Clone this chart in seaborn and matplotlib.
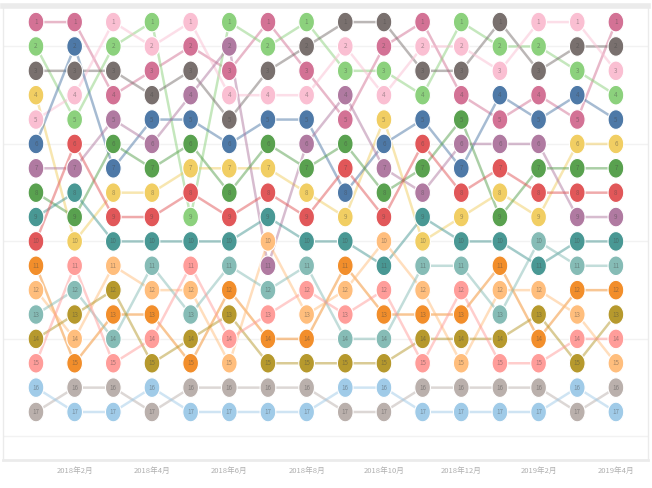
import numpy as np
import pandas as pd
import matplotlib
matplotlib.use("Agg")
import matplotlib.pyplot as plt
import seaborn as sns

# time points (16 columns); labels shown on every other column
periods = list(range(16))
tick_labels = ["2018年2月", "2018年4月", "2018年6月", "2018年8月",
               "2018年10月", "2018年12月", "2019年2月", "2019年4月"]

# rank of each series at each time point (1 = top)
rank_magenta    = [1, 1, 4, 3, 2, 3, 1, 3, 5, 2, 1, 4, 5, 4, 5, 1]
rank_lightgreen = [2, 5, 2, 1, 9, 1, 2, 1, 3, 3, 4, 1, 2, 2, 3, 4]
rank_gray       = [3, 3, 3, 4, 3, 5, 3, 2, 1, 1, 3, 3, 1, 3, 2, 2]
rank_yellow     = [4, 10, 8, 8, 7, 7, 7, 8, 9, 5, 10, 9, 8, 9, 6, 6]
rank_lightpink  = [5, 4, 1, 2, 1, 4, 4, 4, 2, 4, 2, 2, 3, 1, 1, 3]
rank_blue       = [6, 2, 7, 5, 5, 6, 5, 5, 8, 6, 5, 7, 4, 5, 4, 5]
rank_purple     = [7, 7, 5, 6, 4, 2, 11, 6, 4, 7, 8, 6, 6, 6, 9, 9]
rank_green      = [8, 9, 6, 7, 6, 8, 6, 7, 6, 8, 7, 5, 9, 7, 7, 7]
rank_teal       = [9, 8, 10, 10, 10, 10, 9, 10, 10, 11, 9, 10, 10, 11, 10, 10]
rank_red        = [10, 6, 9, 9, 8, 9, 8, 9, 7, 9, 6, 8, 7, 8, 8, 8]
rank_orange     = [11, 15, 13, 13, 15, 12, 14, 14, 11, 13, 13, 13, 11, 14, 12, 12]
rank_lightorange= [12, 14, 11, 12, 12, 15, 10, 13, 12, 10, 12, 15, 12, 12, 13, 15]
rank_lightteal  = [13, 12, 14, 11, 13, 11, 12, 11, 14, 14, 11, 11, 13, 10, 11, 11]
rank_olive      = [14, 13, 12, 15, 14, 13, 15, 15, 15, 15, 14, 14, 14, 13, 15, 13]
rank_pink       = [15, 11, 15, 14, 11, 14, 13, 12, 13, 12, 15, 12, 15, 15, 14, 14]
rank_lightgray  = [17, 16, 16, 17, 16, 16, 16, 16, 17, 17, 16, 16, 16, 16, 17, 16]
rank_lightblue  = [16, 17, 17, 16, 17, 17, 17, 17, 16, 16, 17, 17, 17, 17, 16, 17]

series = {
    "S1": (rank_magenta, "#D37295"),
    "S2": (rank_lightgreen, "#8CD17D"),
    "S3": (rank_gray, "#79706E"),
    "S4": (rank_yellow, "#F1CE63"),
    "S5": (rank_lightpink, "#FABFD2"),
    "S6": (rank_blue, "#4E79A7"),
    "S7": (rank_purple, "#B07AA1"),
    "S8": (rank_green, "#59A14F"),
    "S9": (rank_teal, "#499894"),
    "S10": (rank_red, "#E15759"),
    "S11": (rank_orange, "#F28E2B"),
    "S12": (rank_lightorange, "#FFBE7D"),
    "S13": (rank_lightteal, "#86BCB6"),
    "S14": (rank_olive, "#B6992D"),
    "S15": (rank_pink, "#FF9D9A"),
    "S16": (rank_lightgray, "#BAB0AC"),
    "S17": (rank_lightblue, "#A0CBE8"),
}

rows = []
for name, (ranks, _) in series.items():
    for t, r in zip(periods, ranks):
        rows.append({"series": name, "t": t, "rank": r})
df = pd.DataFrame(rows)
palette = {k: v[1] for k, v in series.items()}

sns.set_theme(style="white")
plt.rcParams['font.family'] = ['Noto Sans CJK SC', 'DejaVu Sans']

fig = plt.figure(figsize=(6.52, 4.88), dpi=100)
ax = fig.add_axes([3/652, 1-460/488, 645/652, 454/488])

sns.lineplot(data=df, x="t", y="rank", hue="series", palette=palette,
             linewidth=1.8, alpha=0.5, legend=False, ax=ax, zorder=2,
             estimator=None, sort=True)

theta = np.linspace(0, 2*np.pi, 40)
ell = np.column_stack([0.8*np.cos(theta), np.sin(theta)])
sns.scatterplot(data=df, x="t", y="rank", hue="series", palette=palette,
                marker=ell, s=200, linewidth=0.8, edgecolor="white",
                legend=False, ax=ax, zorder=3)

for _, row in df.iterrows():
    ax.text(row["t"], row["rank"], str(int(row["rank"])), ha="center",
            va="center", fontsize=4.5, color="#444444", alpha=0.45, zorder=4)

ax.set_xlim(-0.853, 15.83)
ax.set_ylim(18.97, 0.34)
ax.set_yticks([2, 6, 10, 14, 18])
ax.set_yticklabels([])
ax.yaxis.grid(True, color="#f2f2f2", linewidth=1)
ax.set_xticks(periods[1::2])
ax.set_xticklabels(tick_labels, fontsize=5.5, color="#b0b0b0")
ax.tick_params(axis="both", length=0, pad=5)
ax.set_xlabel("")
ax.set_ylabel("")
for side, sp in ax.spines.items():
    sp.set_color("#ebebeb")
    sp.set_linewidth(1)
ax.spines["top"].set_linewidth(4)
ax.spines["bottom"].set_linewidth(2)

fig.savefig("out.png", dpi=100, facecolor="white")
